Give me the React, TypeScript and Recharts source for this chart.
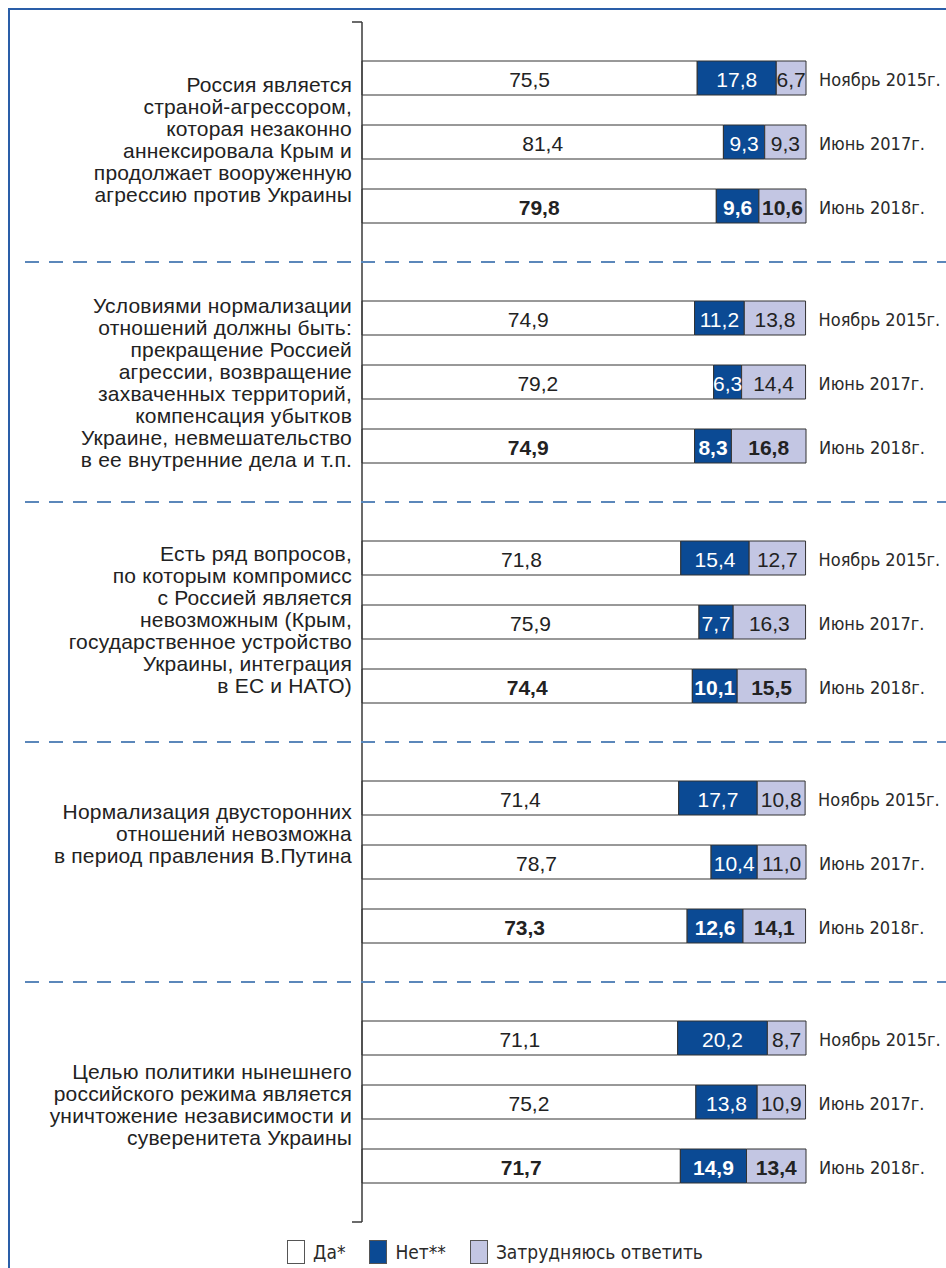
import { BarChart, Bar, XAxis, YAxis, LabelList } from 'recharts';

const periods = ['Ноябрь 2015г.', 'Июнь 2017г.', 'Июнь 2018г.'];

const statements = [
  ['Россия является', 'страной-агрессором,', 'которая незаконно', 'аннексировала Крым и', 'продолжает вооруженную', 'агрессию против Украины'],
  ['Условиями нормализации', 'отношений должны быть:', 'прекращение Россией', 'агрессии, возвращение', 'захваченных территорий,', 'компенсация убытков', 'Украине, невмешательство', 'в ее внутренние дела и т.п.'],
  ['Есть ряд вопросов,', 'по которым компромисс', 'с Россией является', 'невозможным (Крым,', 'государственное устройство', 'Украины, интеграция', 'в ЕС и НАТО)'],
  ['Нормализация двусторонних', 'отношений невозможна', 'в период правления В.Путина'],
  ['Целью политики нынешнего', 'российского режима является', 'уничтожение независимости и', 'суверенитета Украины'],
];

// rows: Nov 2015, Jun 2017, Jun 2018
const yesValues = [
  [75.5, 81.4, 79.8],
  [74.9, 79.2, 74.9],
  [71.8, 75.9, 74.4],
  [71.4, 78.7, 73.3],
  [71.1, 75.2, 71.7],
];
const noValues = [
  [17.8, 9.3, 9.6],
  [11.2, 6.3, 8.3],
  [15.4, 7.7, 10.1],
  [17.7, 10.4, 12.6],
  [20.2, 13.8, 14.9],
];
const hardValues = [
  [6.7, 9.3, 10.6],
  [13.8, 14.4, 16.8],
  [12.7, 16.3, 15.5],
  [10.8, 11.0, 14.1],
  [8.7, 10.9, 13.4],
];

const legendItems = [
  { label: 'Да*', fill: '#ffffff' },
  { label: 'Нет**', fill: '#0b4a94' },
  { label: 'Затрудняюсь ответить', fill: '#c3c6e3' },
];

const BLUE = '#0b4a94';
const LAVENDER = '#c3c6e3';
const FONT = '"Liberation Sans", Arial, Helvetica, sans-serif';
const NARROW = '"Liberation Sans Narrow", "Arial Narrow", "DejaVu Sans Condensed", sans-serif';

const GROUP_TOP = 22;
const GROUP_H = 240;
const LABEL_SHIFT = [-2, 1, -2, -28, 3];

const fmt = (v: number) => v.toFixed(1).replace('.', ',');

const valueLabel = (color: string) => (props: any) => {
  const { x, y, width, height, value, index } = props;
  return (
    <text
      x={x + width / 2}
      y={y + height / 2 + 1}
      fill={color}
      textAnchor="middle"
      dominantBaseline="central"
      style={{ fontSize: 21, fontFamily: FONT, fontWeight: index === 2 ? 'bold' : 'normal' }}
    >
      {fmt(Number(value))}
    </text>
  );
};

const periodLabel = (props: any) => {
  const { x, y, width, height, value } = props;
  return (
    <text
      x={x + width + 13}
      y={y + height / 2 + 1}
      fill="#2a2a2a"
      dominantBaseline="central"
      style={{ fontSize: 18, fontFamily: NARROW }}
    >
      {value}
    </text>
  );
};

function Group({ i }: { i: number }) {
  const rows = periods.map((p, j) => ({
    period: p,
    yes: yesValues[i][j],
    no: noValues[i][j],
    hard: hardValues[i][j],
  }));
  return (
    <div style={{ position: 'absolute', left: 0, top: GROUP_TOP + GROUP_H * i, width: 946, height: GROUP_H }}>
      <BarChart
        width={946}
        height={GROUP_H}
        data={rows}
        layout="vertical"
        margin={{ top: 0, right: 140, bottom: 0, left: 0 }}
        barSize={34}
      >
        <XAxis type="number" domain={[0, 100]} hide />
        <YAxis
          type="category"
          dataKey="period"
          width={362}
          tick={false}
          tickLine={false}
          axisLine={{ stroke: '#3a3a3a', strokeWidth: 1.5 }}
          padding={{ top: 24, bottom: 24 }}
        />
        <Bar dataKey="yes" stackId="a" fill="#ffffff" stroke="#333" strokeWidth={1} isAnimationActive={false}>
          <LabelList dataKey="yes" content={valueLabel('#222')} />
        </Bar>
        <Bar dataKey="no" stackId="a" fill={BLUE} stroke="#333" strokeWidth={1} isAnimationActive={false}>
          <LabelList dataKey="no" content={valueLabel('#ffffff')} />
        </Bar>
        <Bar dataKey="hard" stackId="a" fill={LAVENDER} stroke="#333" strokeWidth={1} isAnimationActive={false}>
          <LabelList dataKey="hard" content={valueLabel('#222')} />
          <LabelList dataKey="period" content={periodLabel} />
        </Bar>
      </BarChart>
      <div
        style={{
          position: 'absolute',
          left: 0,
          top: 0,
          width: 352,
          height: GROUP_H,
          display: 'flex',
          alignItems: 'center',
          justifyContent: 'flex-end',
          pointerEvents: 'none',
        }}
      >
        <div
          style={{
            textAlign: 'right',
            fontFamily: FONT,
            fontSize: 21,
            letterSpacing: 0.2,
            lineHeight: '22px',
            color: '#222',
            transform: `translateY(${LABEL_SHIFT[i]}px)`,
          }}
        >
          {statements[i].map((line, k) => (
            <div key={k} style={{ whiteSpace: 'nowrap' }}>{line}</div>
          ))}
        </div>
      </div>
    </div>
  );
}

export default function App() {
  const bottom = GROUP_TOP + GROUP_H * statements.length;
  return (
    <div style={{ position: 'relative', width: 946, height: 1268, overflow: 'hidden', background: '#fff' }}>
      <style>{'body{margin:0;overflow:hidden}'}</style>
      {/* frame */}
      <div style={{ position: 'absolute', left: 8, top: 8, width: 960, height: 1300, borderLeft: '2px solid #2a5ea8', borderTop: '2px solid #2a5ea8' }} />

      {statements.map((_, i) => <Group key={i} i={i} />)}

      {/* separators and axis end ticks */}
      <svg width={946} height={1268} style={{ position: 'absolute', left: 0, top: 0, pointerEvents: 'none' }}>
        {statements.slice(1).map((_, i) => {
          const y = GROUP_TOP + GROUP_H * (i + 1);
          return <line key={i} x1={25} x2={946} y1={y} y2={y} stroke="#5b87ba" strokeWidth={2} strokeDasharray="14 10" />;
        })}
        <line x1={352} x2={362} y1={GROUP_TOP} y2={GROUP_TOP} stroke="#3a3a3a" strokeWidth={1.5} />
        <line x1={352} x2={362} y1={bottom} y2={bottom} stroke="#3a3a3a" strokeWidth={1.5} />
      </svg>

      {/* legend */}
      <div
        style={{
          position: 'absolute',
          left: 0,
          top: 1240,
          width: 990,
          display: 'flex',
          justifyContent: 'center',
          alignItems: 'center',
          gap: 24,
          fontFamily: NARROW,
          fontSize: 19,
          color: '#2a2a2a',
        }}
      >
        {legendItems.map((it) => (
          <div key={it.label} style={{ display: 'flex', alignItems: 'center', gap: 8 }}>
            <div style={{ width: 18, height: 24, background: it.fill, border: '1.5px solid #555', boxSizing: 'border-box' }} />
            <span>{it.label}</span>
          </div>
        ))}
      </div>
    </div>
  );
}
